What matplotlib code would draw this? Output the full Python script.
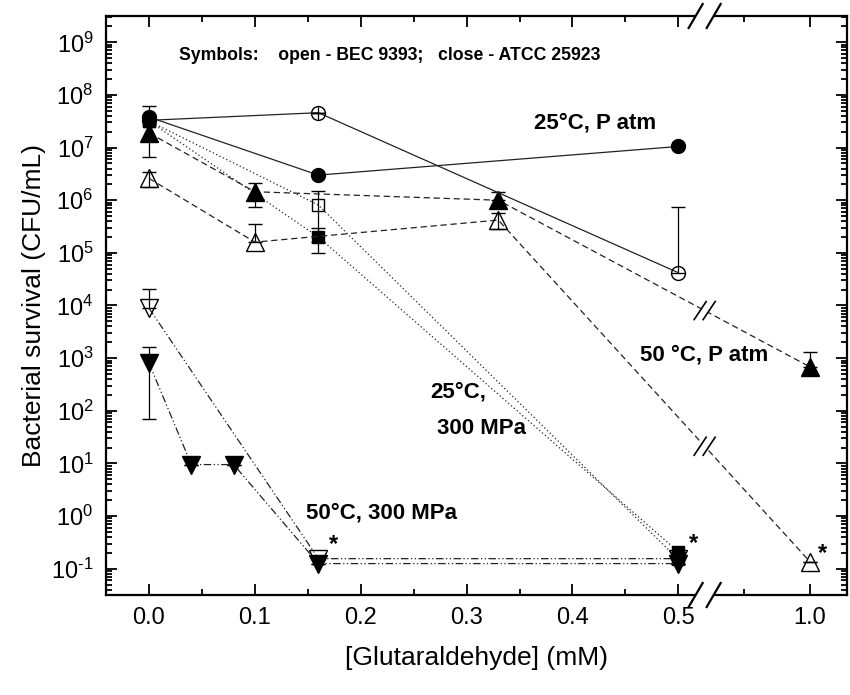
import numpy as np
import matplotlib
matplotlib.use("Agg")
import matplotlib.pyplot as plt
from matplotlib.ticker import FixedLocator, LogLocator, NullFormatter, FuncFormatter


# -----------------------------
# Data
# -----------------------------

# 25 C, atmospheric pressure
x_25_atm_atcc = [0.0, 0.16, 0.5]
y_25_atm_atcc = [3.8e7, 3.0e6, 1.05e7]
err_25_atm_atcc = [[0, 0, 0], [2.4e7, 0, 0]]

x_25_atm_bec = [0.0, 0.16, 0.5]
y_25_atm_bec = [3.3e7, 4.6e7, 4.2e4]
err_25_atm_bec = [[0, 0, 0], [0, 0, 7.0e5]]

# 50 C, atmospheric pressure
x_50_atm_atcc = [0.0, 0.1, 0.33, 1.0]
y_50_atm_atcc = [1.9e7, 1.45e6, 1.0e6, 680]
err_50_atm_atcc = [[1.25e7, 7.0e5, 0, 0], [1.25e7, 7.0e5, 4.5e5, 600]]

x_50_atm_bec = [0.0, 0.1, 0.33, 1.0]
y_50_atm_bec = [2.6e6, 1.6e5, 4.2e5, 0.135]
err_50_atm_bec = [[8.0e5, 0, 1.4e5, 0], [8.0e5, 2.0e5, 1.4e5, 0]]

# 25 C, 300 MPa
x_25_hp_atcc = [0.0, 0.16, 0.5]
y_25_hp_atcc = [3.2e7, 2.0e5, 0.21]
err_25_hp_atcc = [[0, 1.0e5, 0], [0, 1.0e5, 0]]

x_25_hp_bec = [0.0, 0.16, 0.5]
y_25_hp_bec = [3.2e7, 8.1e5, 0.15]
err_25_hp_bec = [[0, 6.5e5, 0], [0, 7.0e5, 0]]

# 50 C, 300 MPa
x_50_hp_atcc = [0.0, 0.04, 0.08, 0.16, 0.5]
y_50_hp_atcc = [810, 9.5, 9.5, 0.125, 0.125]
err_50_hp_atcc = [[740, 0, 0, 0, 0], [810, 0, 0, 0, 0]]

x_50_hp_bec = [0.0, 0.16, 0.5]
y_50_hp_bec = [8900, 0.155, 0.155]
err_50_hp_bec = [[0, 0, 0], [1.2e4, 0, 0]]

# points below detection limit (marked with *)
star_x = [0.16, 0.5, 1.0]
star_y = [0.155, 0.21, 0.135]

x_major = [0.0, 0.1, 0.2, 0.3, 0.4, 0.5, 1.0]
x_major_labels = ["0.0", "0.1", "0.2", "0.3", "0.4", "0.5", "1.0"]
x_minor = [0.05, 0.15, 0.25, 0.35, 0.45, 0.75]

BREAK_X = 0.6


# -----------------------------
# Broken x scale
# -----------------------------

K = 0.249  # compression of the 0.5 - 1.0 segment


def fwd(x):
    x = np.asarray(x, dtype=float)
    return np.where(x <= 0.5, x, 0.5 + (x - 0.5) * K)


def inv(x):
    x = np.asarray(x, dtype=float)
    return np.where(x <= 0.5, x, 0.5 + (x - 0.5) / K)


def decade_label(v, pos):
    e = int(round(np.log10(v)))
    if e < 0:
        return r"$10^{\text{-%d}}$" % (-e)
    return r"$10^{%d}$" % e


plt.rcParams["font.family"] = ["Liberation Sans", "DejaVu Sans"]
plt.rcParams["mathtext.fontset"] = "custom"
plt.rcParams["mathtext.rm"] = "Liberation Sans"
plt.rcParams["mathtext.it"] = "Liberation Sans:italic"
plt.rcParams["axes.unicode_minus"] = False

fig = plt.figure(figsize=(8.5, 6.95), dpi=100)
ax = fig.add_axes([106 / 850, 1 - 595 / 695, 741 / 850, 579 / 695])

ax.set_xscale("function", functions=(fwd, inv))
ax.set_yscale("log")
ax.set_xlim(-0.0406, 1.14)
ax.set_ylim(10 ** -1.5, 10 ** 9.5)

LW = 0.9
CAP = 5


def series(x, y, err, marker, filled, ls, ms=10, z=3):
    face = "black" if filled else "none"
    ax.errorbar(
        x, y, yerr=err,
        color="#222222", lw=LW, ls=ls,
        marker=marker, ms=ms, mfc=face, mec="black", mew=1.0,
        ecolor="black", elinewidth=0.9, capsize=CAP, capthick=0.9,
        zorder=z,
    )


dash = (0, (5, 3))
dot = (0, (1, 2))
dashdotdot = (0, (6, 2, 1, 2, 1, 2))

series(x_25_hp_bec, y_25_hp_bec, err_25_hp_bec, "s", False, dot, ms=9)
series(x_25_hp_atcc, y_25_hp_atcc, err_25_hp_atcc, "s", True, dot, ms=9)
series(x_50_atm_bec, y_50_atm_bec, err_50_atm_bec, "^", False, dash, ms=13)
series(x_50_atm_atcc, y_50_atm_atcc, err_50_atm_atcc, "^", True, dash, ms=13)
series(x_50_hp_bec, y_50_hp_bec, err_50_hp_bec, "v", False, dashdotdot, ms=13)
series(x_50_hp_atcc, y_50_hp_atcc, err_50_hp_atcc, "v", True, dashdotdot, ms=13)
series(x_25_atm_bec, y_25_atm_bec, err_25_atm_bec, "o", False, "-", ms=10)
series(x_25_atm_atcc, y_25_atm_atcc, err_25_atm_atcc, "o", True, "-", ms=10)

# cross inside the open circle at 0.16 mM
ax.plot(x_25_atm_bec[1], y_25_atm_bec[1], marker="+", ms=10, mew=0.9,
        color="black", ls="none", zorder=4)

# ticks
ax.xaxis.set_major_locator(FixedLocator(x_major))
ax.set_xticklabels(x_major_labels)
ax.xaxis.set_minor_locator(FixedLocator(x_minor))
ax.yaxis.set_major_locator(LogLocator(base=10, numticks=20))
ax.yaxis.set_major_formatter(FuncFormatter(decade_label))
ax.yaxis.set_minor_locator(LogLocator(base=10, subs=np.arange(2, 10), numticks=20))
ax.yaxis.set_minor_formatter(NullFormatter())

ax.tick_params(which="both", direction="in", top=True, right=True, width=1.3,
               labelsize=17, pad=9)
ax.tick_params(which="major", length=8)
ax.tick_params(which="minor", length=4)
for s in ax.spines.values():
    s.set_linewidth(1.6)

ax.set_xlabel("[Glutaraldehyde] (mM)", fontsize=19, labelpad=12)
ax.set_ylabel("Bacterial survival (CFU/mL)", fontsize=19)
ax.yaxis.set_label_coords(-0.081, 0.5)

# -----------------------------
# Text
# -----------------------------

fig.text(390 / 850, 1 - 55 / 695, "Symbols:    open - BEC 9393;   close - ATCC 25923",
         fontsize=12.7, fontweight="bold", ha="center", va="center")
fig.text(595 / 850, 1 - 123 / 695, "25°C, P atm", fontsize=16, fontweight="bold",
         ha="center", va="center")
fig.text(704 / 850, 1 - 355 / 695, "50 °C, P atm", fontsize=16, fontweight="bold",
         ha="center", va="center")
fig.text(430 / 850, 1 - 392 / 695, "25°C,", fontsize=16, fontweight="bold",
         ha="left", va="center")
fig.text(437 / 850, 1 - 428 / 695, "300 MPa", fontsize=16, fontweight="bold",
         ha="left", va="center")
fig.text(381 / 850, 1 - 513 / 695, "50°C, 300 MPa", fontsize=16, fontweight="bold",
         ha="center", va="center")

star_offsets = [(11, 10), (11, 6), (9, 6)]
for xs, ys, off in zip(star_x, star_y, star_offsets):
    ax.annotate("*", (xs, ys), textcoords="offset points", xytext=off,
                fontsize=17, fontweight="bold", ha="center", va="center")


# -----------------------------
# Break marks
# -----------------------------

W_PX = 741.0
H_PX = 579.0


def slash_pair(xa, ya, h_px, w_px, gap_px, lw=1.6, cut=True, clip=False):
    dx = w_px / 2 / W_PX
    dy = h_px / 2 / H_PX
    g = gap_px / 2 / W_PX
    if cut:
        poly = plt.Polygon(
            [(xa - g - dx, ya - dy), (xa - g + dx, ya + dy),
             (xa + g + dx, ya + dy), (xa + g - dx, ya - dy)],
            closed=True, transform=ax.transAxes, facecolor="white",
            edgecolor="none", clip_on=clip, zorder=6)
        ax.add_patch(poly)
    for off in (-g, g):
        ax.plot([xa + off - dx, xa + off + dx], [ya - dy, ya + dy],
                transform=ax.transAxes, color="black", lw=lw,
                clip_on=clip, zorder=7)


def break_on_line(x0, y0, x1, y1):
    to_axes = ax.transData + ax.transAxes.inverted()
    pts = to_axes.transform([(x0, y0), (x1, y1), (BREAK_X, y0)])
    t = (pts[2, 0] - pts[0, 0]) / (pts[1, 0] - pts[0, 0])
    return pts[2, 0], pts[0, 1] + t * (pts[1, 1] - pts[0, 1])


bx = (ax.transData + ax.transAxes.inverted()).transform((BREAK_X, 1.0))[0]
slash_pair(bx, 1.0, 24, 14, 18)
slash_pair(bx, 0.0, 24, 14, 18)

for xs, ys in [(x_50_atm_atcc, y_50_atm_atcc), (x_50_atm_bec, y_50_atm_bec)]:
    px, py = break_on_line(xs[-2], ys[-2], xs[-1], ys[-1])
    slash_pair(px, py, 18, 12, 9, lw=1.2, cut=True)

fig.savefig("out.png", dpi=100)
